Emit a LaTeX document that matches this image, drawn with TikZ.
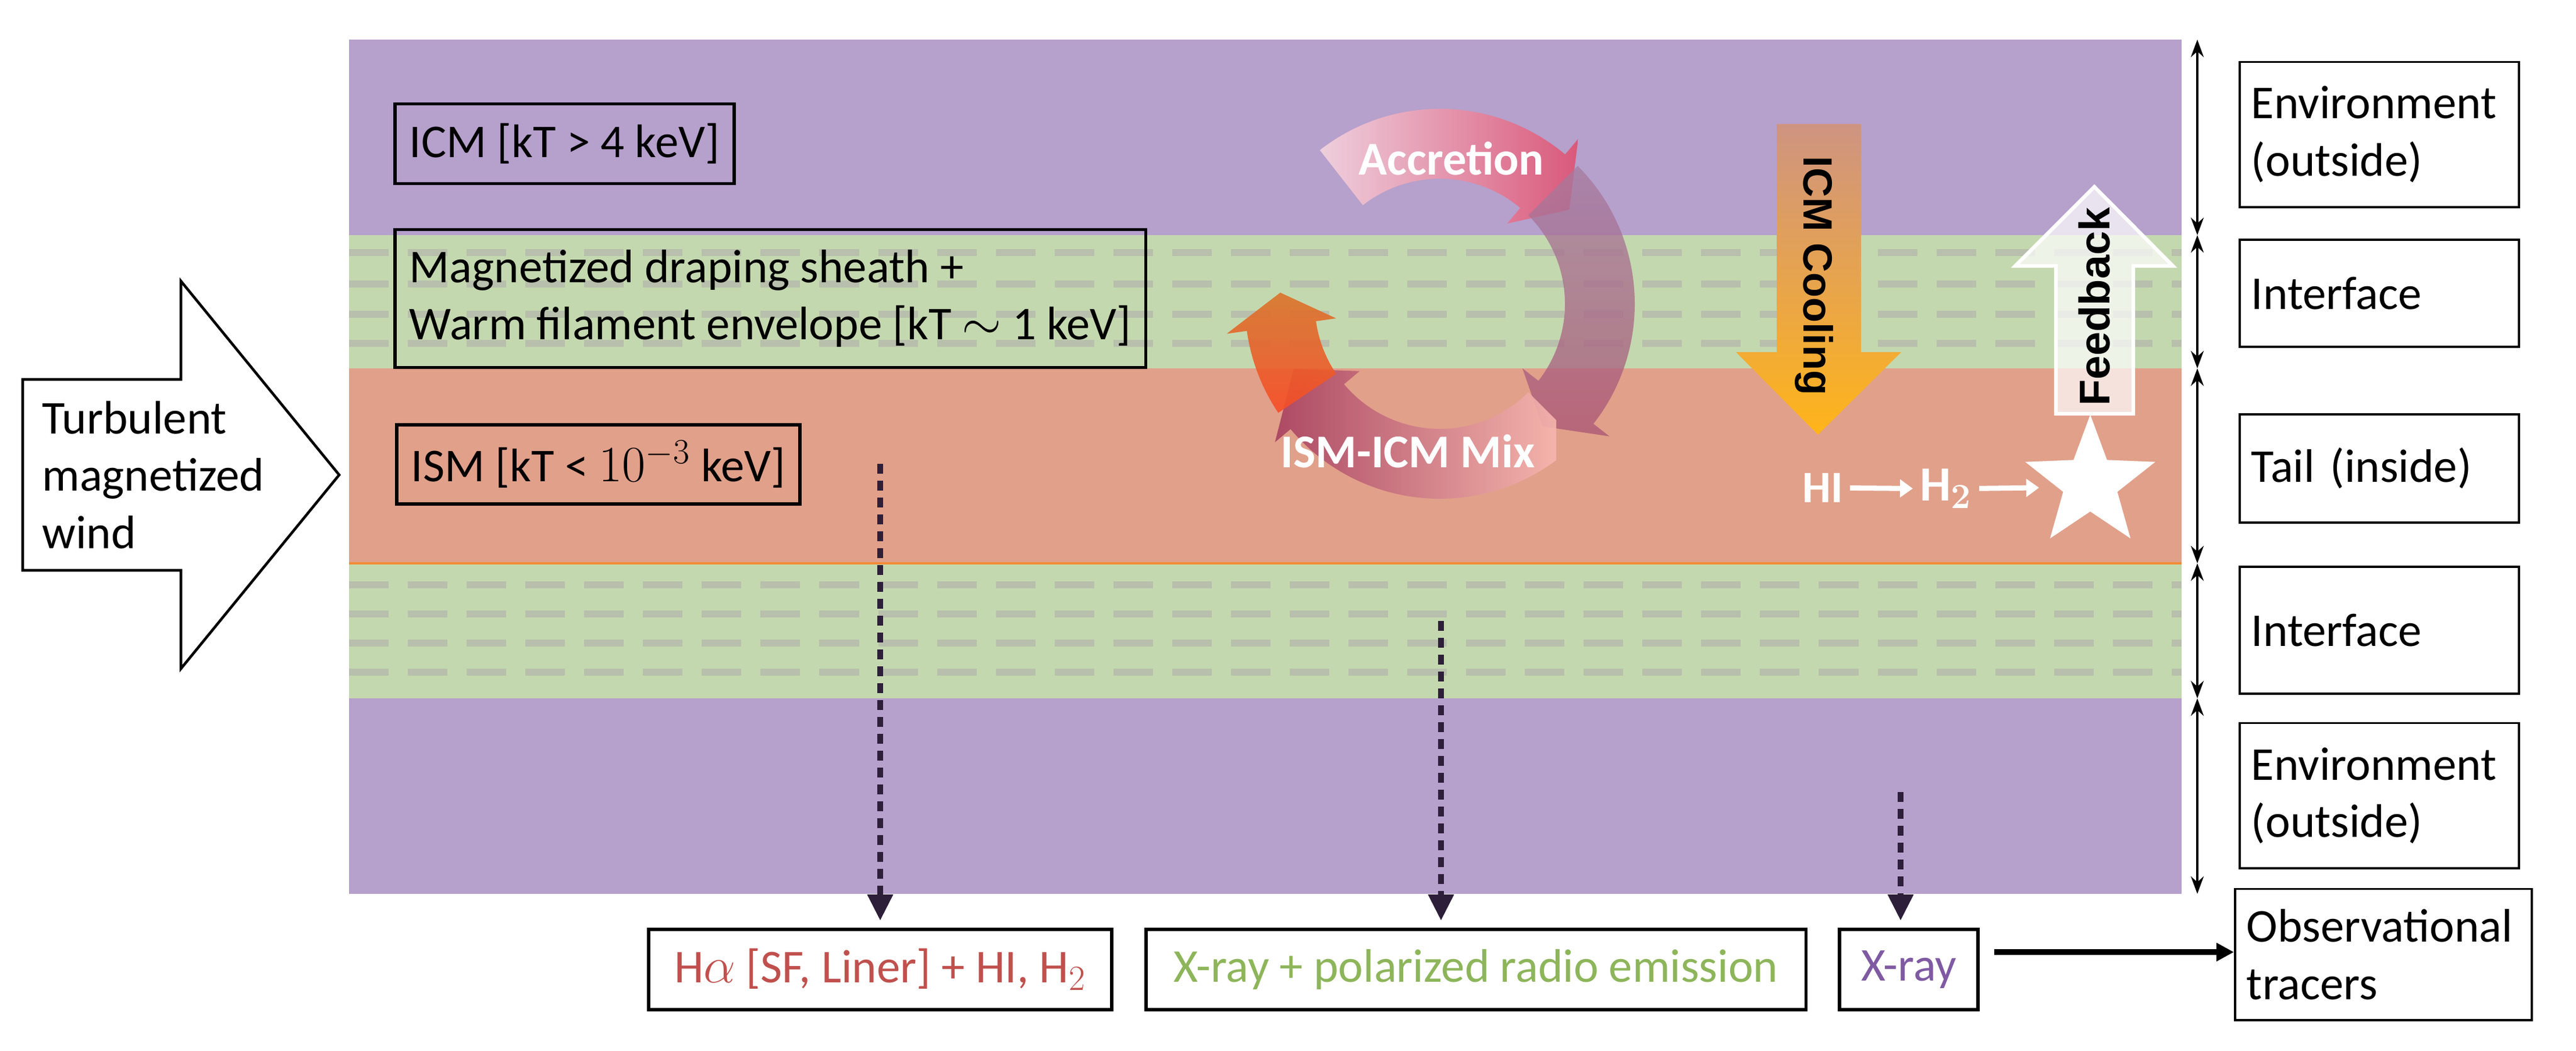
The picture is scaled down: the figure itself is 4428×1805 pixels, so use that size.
\documentclass[tikz,border=0pt]{standalone}
\usepackage{fontspec}
\setmainfont{Carlito}
\newfontfamily\blk{Liberation Sans}
\usetikzlibrary{arrows.meta,shapes.geometric}
\definecolor{cpur}{HTML}{B6A0CC}
\definecolor{cgrn}{HTML}{C4D8AF}
\definecolor{cred}{HTML}{E1A08A}
\definecolor{cdash}{HTML}{B5B9AC}
\definecolor{tred}{HTML}{C0504D}
\definecolor{tgrn}{HTML}{8DB55A}
\definecolor{tpur}{HTML}{7F5AA2}
\definecolor{cdot}{HTML}{2D1E3A}
\newcommand\ringpath[3]{(#1:335) arc[start angle=#1,end angle=#2,radius=335] -- (#2:370) -- (#3:275) -- (#2:180) -- (#2:215) arc[start angle=#2,end angle=#1,radius=215] -- cycle}
\begin{document}
\begin{tikzpicture}[x=0.01cm,y=-0.01cm,
  txt/.style={font=\fontsize{23}{28}\selectfont},
  lbox/.style={draw,line width=1.6pt,txt,align=left,inner xsep=0.25cm,anchor=west},
  rbox/.style={draw,line width=1.1pt,fill=white,txt,align=left,inner xsep=0.2cm,text width=4.4cm,minimum height=#1},
  bbox/.style={draw,line width=1.6pt,fill=white,txt,minimum height=1.38cm},
  dashl/.style={cdash,line width=0.12cm,dash pattern=on 0.68cm off 0.33cm,opacity=.8},
  dotarr/.style={cdot,line width=0.1cm,dash pattern=on 0.17cm off 0.12cm,-{Triangle[length=0.45cm,width=0.42cm]}},
  dbl/.style={line width=1.1pt,{Stealth[length=0.3cm,width=0.22cm]}-{Stealth[length=0.3cm,width=0.22cm]}}]
\useasboundingbox (0,0) rectangle (4428,1805);
% bands
\fill[cpur] (600,68) rectangle (3750,404);
\fill[cgrn] (600,404) rectangle (3750,633);
\fill[cred] (600,633) rectangle (3750,968);
\fill[cgrn] (600,968) rectangle (3750,1200);
\fill[cpur] (600,1200) rectangle (3750,1536);
\draw[color=orange!60!cred,line width=1pt] (600,968) -- (3750,968);
\foreach \y in {434,488,540,590,1005,1055,1105,1155}
  \draw[dashl] (600,\y) -- (3750,\y);
% left boxes
\node[lbox,minimum height=1.37cm] (icm) at (676,247) {ICM [kT > 4 keV]};
\node[lbox,minimum height=2.37cm] (mag) at (676,513) {Magnetized draping sheath +\\Warm filament envelope [kT $\sim$ 1 keV]};
\node[lbox,minimum height=1.36cm] (ism) at (679,798) {ISM [kT < $10^{-3}$ keV]};
% wind arrow
\draw[line width=1.3pt,fill=white] (39,652) -- (311,652) -- (311,483) -- (583,816) -- (311,1149) -- (311,980) -- (39,980) -- cycle;
\node[txt,align=left,anchor=west] (wind) at (60,816) {Turbulent\\magnetized\\wind};
% cycle
\begin{scope}[shift={(2475,522)},y=0.01cm]
  \begin{scope}\clip \ringpath{128}{50}{36};
    \shade[left color=white!75!purple!60,right color=purple!75!red!80,opacity=.9] (-220,0) rectangle (340,360);\end{scope}
  \begin{scope}\clip \ringpath{45}{-38}{-50};
    \shade[top color=violet!40!gray!70,bottom color=purple!70!black!70,opacity=.75] (0,320) rectangle (360,-320);\end{scope}
  \begin{scope}\clip \ringpath{-45}{-140}{-156};
    \shade[left color=purple!70!black!80,right color=pink!70!cred,opacity=.9] (-340,0) rectangle (200,-370);\end{scope}
  \begin{scope}\clip \ringpath{214}{188}{176};
    \shade[bottom color=red!75!orange!85,top color=brown!70!orange,opacity=.9] (-380,-250) rectangle (-150,80);\end{scope}
\end{scope}
\node[txt,font=\fontsize{23}{28}\selectfont\bfseries,text=white] (acc) at (2495,272) {Accretion};
\node[txt,font=\fontsize{23}{28}\selectfont\bfseries,text=white] (mix) at (2420,775) {ISM-ICM Mix};
% ICM cooling arrow
\begin{scope}
\clip (3054,213) -- (3199,213) -- (3199,605) -- (3268,605) -- (3125,747) -- (2984,605) -- (3054,605) -- cycle;
\shade[top color=orange!35!cpur!95!brown,middle color=yellow!70!orange!80,bottom color=orange!65!yellow!90] (2980,213) rectangle (3270,747);
\end{scope}
\node[rotate=-90,font=\blk\fontsize{20}{24}\selectfont\bfseries] (cool) at (3118,474) {ICM Cooling};
% Feedback arrow
\draw[white,line width=1.8pt,fill=white,fill opacity=.7] (3534,711) -- (3534,457) -- (3464,457) -- (3600,321) -- (3735,457) -- (3667,457) -- (3667,711) -- cycle;
\node[rotate=90,font=\blk\fontsize{21}{24}\selectfont\bfseries] (fb) at (3600,527) {Feedback};
% HI -> H2 -> star
\node[font=\fontsize{22}{26}\selectfont\bfseries,text=white] (hi) at (3133,838) {HI};
\node[font=\fontsize{24}{26}\selectfont\boldmath,text=white] (h2) at (3345,840) {$\mathrm{H}_2$};
\node[star,star points=5,star point ratio=2.4,fill=white,minimum size=2.35cm,inner sep=0] (st) at (3593,830) {};
\draw[white,line width=2.5pt,-{Triangle[length=0.22cm,width=0.3cm]}] (hi) -- (h2);
\draw[white,line width=2.5pt,-{Triangle[length=0.22cm,width=0.3cm]}] (h2) -- (3505,838);
% right column
\node[rbox=2.49cm] (r1) at (4090,231) {Environment\\(outside)};
\node[rbox=1.84cm] (r2) at (4090,504) {Interface};
\node[rbox=1.86cm] (r3) at (4090,805) {Tail (inside)};
\node[rbox=2.18cm] (r4) at (4090,1083) {Interface};
\node[rbox=2.49cm] (r5) at (4090,1367) {Environment\\(outside)};
\node[rbox=2.25cm,text width=4.7cm] (r6) at (4097,1640) {Observational\\tracers};
\coordinate (v0) at (3777,68); \coordinate (v1) at (3777,404); \coordinate (v2) at (3777,633);
\coordinate (v3) at (3777,968); \coordinate (v4) at (3777,1200); \coordinate (v5) at (3777,1536);
\draw[dbl] (v0) -- (v1); \draw[dbl] (v1) -- (v2); \draw[dbl] (v2) -- (v3);
\draw[dbl] (v3) -- (v4); \draw[dbl] (v4) -- (v5);
% bottom boxes
\node[bbox,text=tred,minimum width=7.96cm] (b1) at (1513,1666) {H$\alpha$ [SF, Liner] + HI, H$_2$};
\node[bbox,text=tgrn,minimum width=11.34cm] (b2) at (2537,1666) {X-ray + polarized radio emission};
\node[bbox,text=tpur,minimum width=2.38cm] (b3) at (3281,1666) {X-ray};
\draw[line width=0.1cm,-{Triangle[length=0.3cm,width=0.3cm]}] (b3.east)++(25,-30) coordinate (ba) -- (r6.west|-ba);
% dotted arrows
\coordinate (d1) at (1513,797); \coordinate (d2) at (2477,1067); \coordinate (d3) at (3267,1361);
\draw[dotarr] (d1) -- (1513,1582);
\draw[dotarr] (d2) -- (2477,1582);
\draw[dotarr] (d3) -- (3267,1582);
\end{tikzpicture}
\end{document}
